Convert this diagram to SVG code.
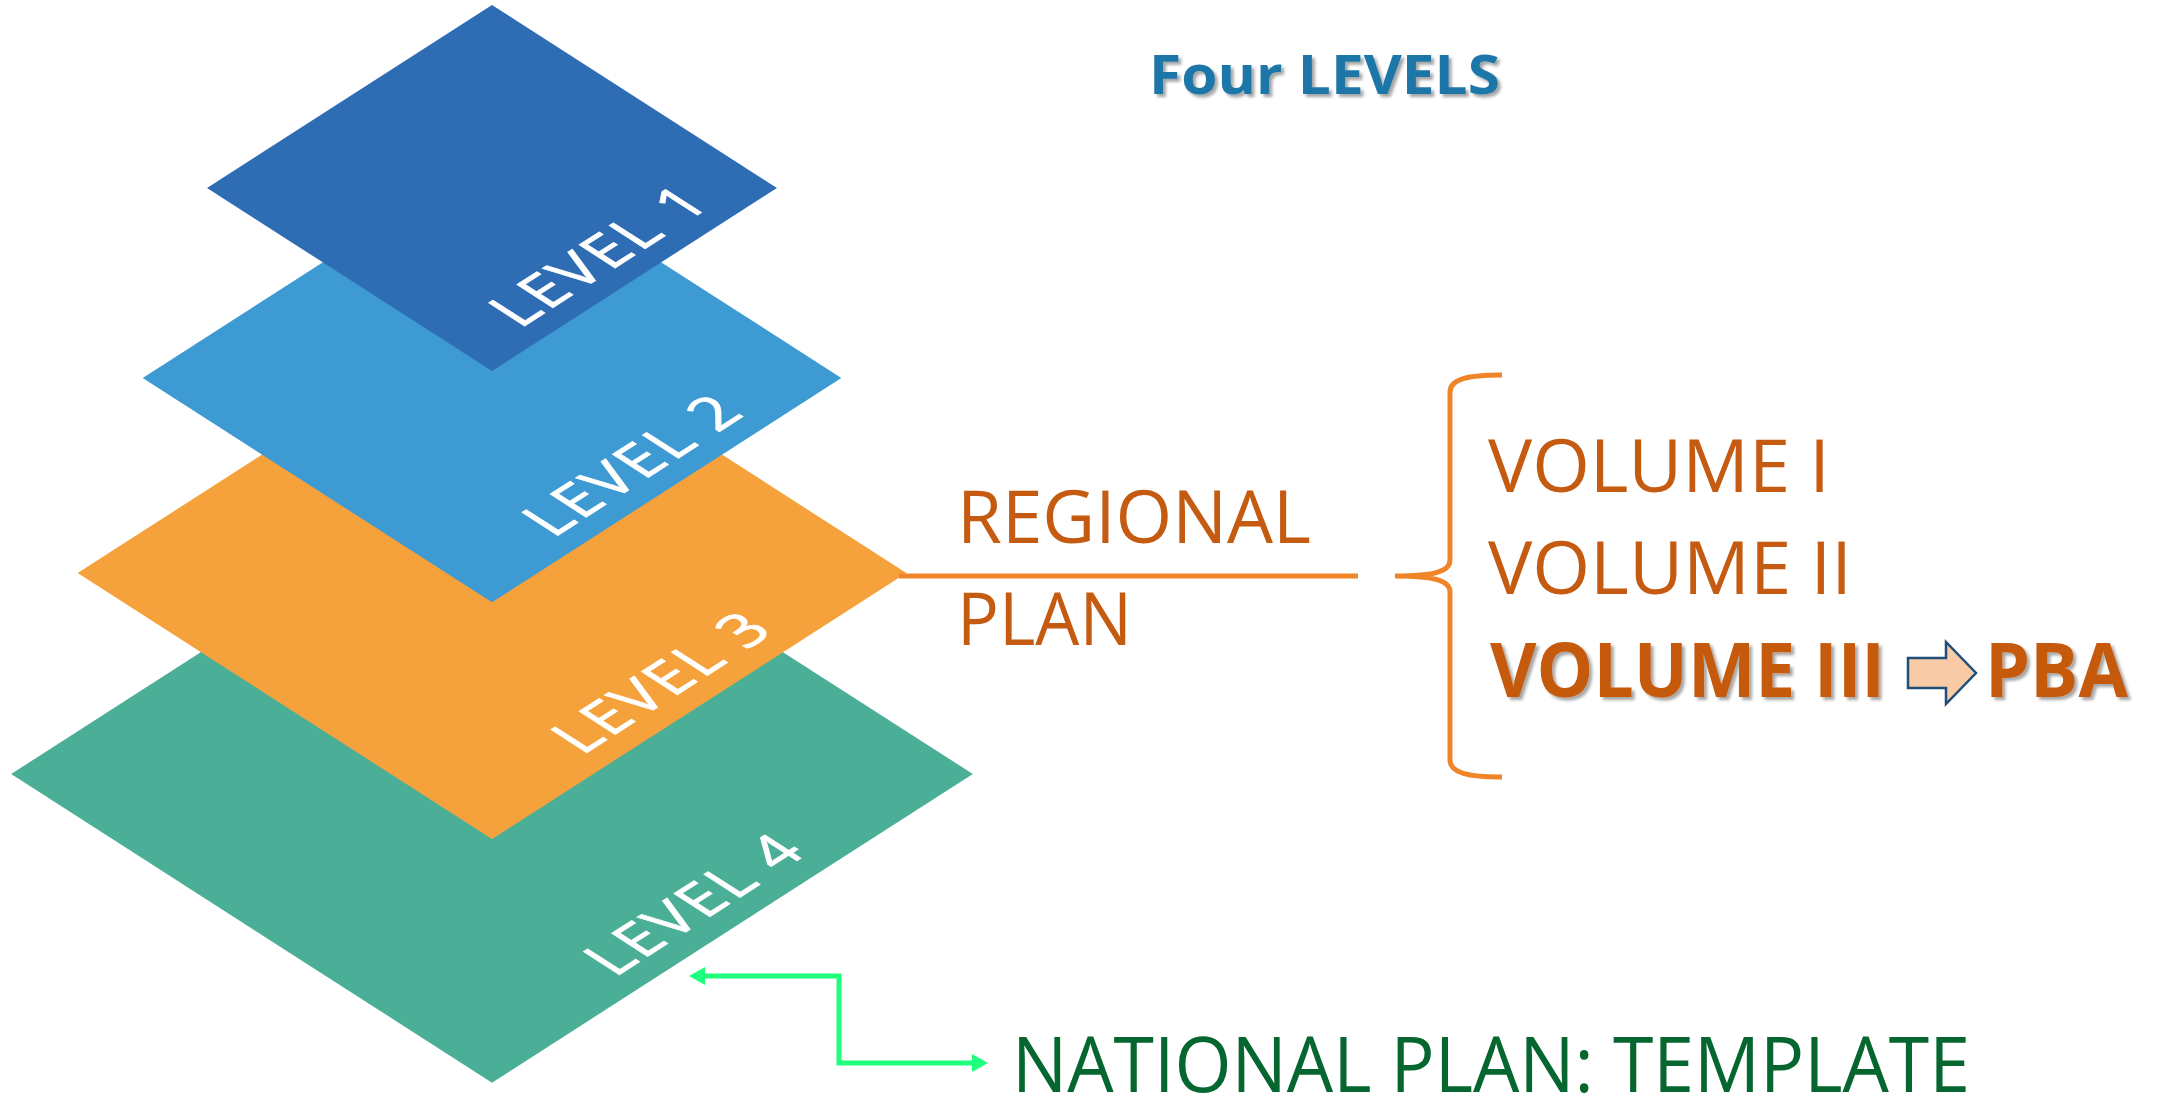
<svg xmlns="http://www.w3.org/2000/svg" width="2162" height="1101" viewBox="0 0 2162 1101">
<defs>
  <filter id="shadow" x="-10%" y="-20%" width="130%" height="160%">
    <feDropShadow dx="3" dy="3" stdDeviation="1.5" flood-color="#000" flood-opacity="0.35"/>
  </filter>
  <marker id="garrow" viewBox="0 0 16 18" markerUnits="userSpaceOnUse" markerWidth="16" markerHeight="18" refX="4" refY="9" orient="auto-start-reverse">
    <path d="M0,0 L16,9 L0,18 z" fill="#1EFF7C"/>
  </marker>
  <style>
    .lvl { font-family: "Open Sans", "Liberation Sans", sans-serif; font-size: 71px; fill: #ffffff; stroke: #ffffff; stroke-width: 1.2px; text-anchor: middle; letter-spacing: 3px; }
    .org { font-family: "Open Sans", "Liberation Sans", sans-serif; font-size: 74px; fill: #C55A11; }
    .orgb { font-family: "Open Sans", "Liberation Sans", sans-serif; font-size: 76px; font-weight: bold; fill: #C55A11; filter: url(#shadow); }
    .title { font-family: "Open Sans", "Liberation Sans", sans-serif; font-size: 53px; font-weight: bold; fill: #1F77A8; filter: url(#shadow); }
    .nat { font-family: "Open Sans", "Liberation Sans", sans-serif; font-size: 77px; fill: #05672F; }
  </style>
</defs>
<rect width="2162" height="1101" fill="#ffffff"/>

<g id="level4" transform="translate(492,774) scale(1,0.642) rotate(-45)">
  <rect x="-340" y="-340" width="680" height="680" fill="#4AAF96"/>
  <text class="lvl" x="0" y="311">LEVEL 4</text>
</g>
<g id="level3" transform="translate(492,573) scale(1,0.642) rotate(-45)">
  <rect x="-293" y="-293" width="586" height="586" fill="#F6A23C"/>
  <text class="lvl" x="0" y="265">LEVEL 3</text>
</g>
<g id="level2" transform="translate(492,378) scale(1,0.642) rotate(-45)">
  <rect x="-247" y="-247" width="494" height="494" fill="#3D9AD2"/>
  <text class="lvl" x="4" y="220">LEVEL 2</text>
</g>
<g id="level1" transform="translate(492,188) scale(1,0.642) rotate(-45)">
  <rect x="-201.5" y="-201.5" width="403" height="403" fill="#2E6DB4"/>
  <text class="lvl" x="2" y="175">LEVEL 1</text>
</g>

<g id="title">
  <text class="title" x="1149" y="94" textLength="351" lengthAdjust="spacingAndGlyphs">Four LEVELS</text>
</g>

<g id="connectors">
  <line x1="899" y1="576" x2="1358" y2="576" stroke="#F08429" stroke-width="5"/>
  <path d="M1502,375 C1468,375 1450,379 1450,392 L1450,560 C1450,571 1436,576 1395,576 C1436,576 1450,581 1450,592 L1450,760 C1450,773 1468,777 1502,777" fill="none" stroke="#F08429" stroke-width="5"/>
  <path d="M701,976 H839 V1063 H976" fill="none" stroke="#1EFF7C" stroke-width="5" marker-start="url(#garrow)" marker-end="url(#garrow)"/>
  <polygon points="1908,658 1946,658 1946,642 1976,673 1946,704 1946,688 1908,688" fill="#F8CBA6" stroke="#1F4E79" stroke-width="2.5" stroke-linejoin="miter"/>
</g>

<g id="regional-plan">
  <text class="org" x="957" y="543" textLength="354" lengthAdjust="spacingAndGlyphs">REGIONAL</text>
  <text class="org" x="957" y="645" textLength="175" lengthAdjust="spacingAndGlyphs">PLAN</text>
</g>

<g id="volumes">
  <text class="org" x="1488" y="492" textLength="342" lengthAdjust="spacingAndGlyphs">VOLUME I</text>
  <text class="org" x="1488" y="594" textLength="364" lengthAdjust="spacingAndGlyphs">VOLUME II</text>
  <text class="orgb" x="1490" y="697" textLength="395" lengthAdjust="spacingAndGlyphs">VOLUME III</text>
  <text class="orgb" x="1985" y="697" textLength="143" lengthAdjust="spacingAndGlyphs">PBA</text>
</g>

<g id="national-plan">
  <text class="nat" x="1012" y="1092" textLength="958" lengthAdjust="spacingAndGlyphs">NATIONAL PLAN: TEMPLATE</text>
</g>
</svg>
